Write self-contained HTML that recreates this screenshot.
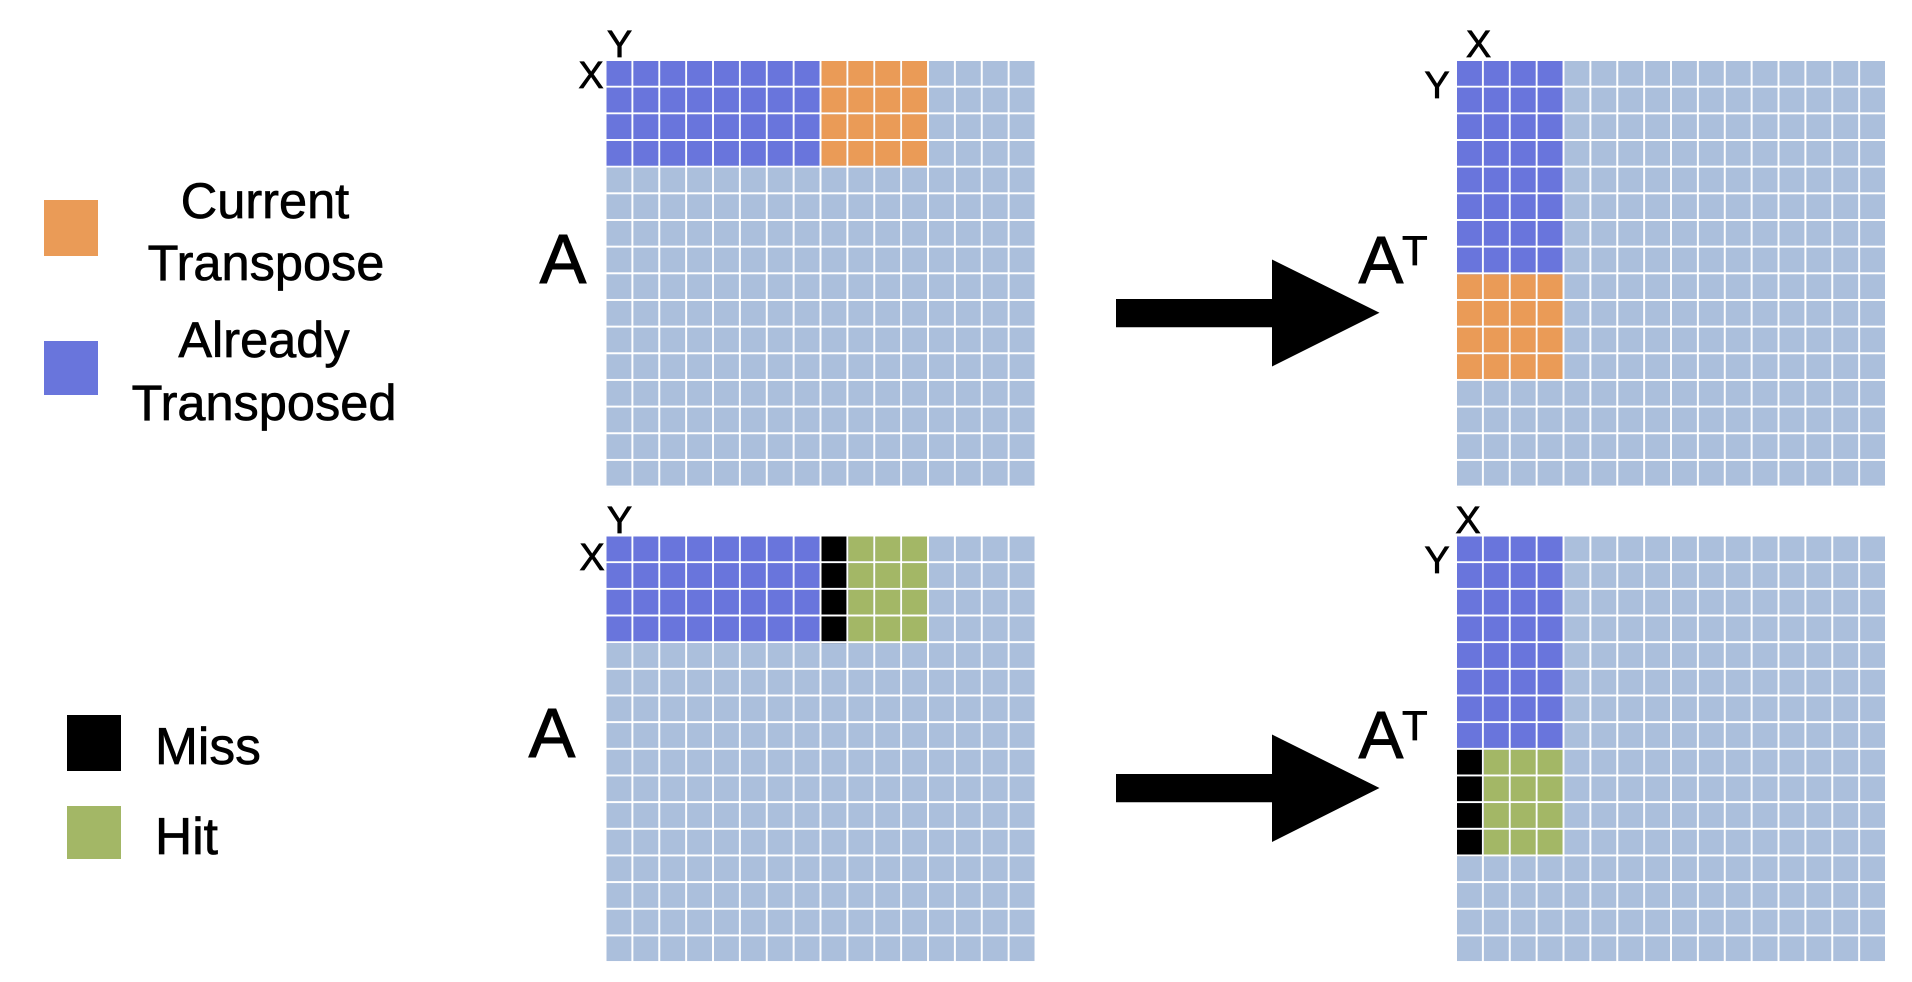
<!DOCTYPE html>
<html>
<head>
<meta charset="utf-8">
<style>
  html, body { margin: 0; padding: 0; background: #ffffff; }
  body { width: 1912px; height: 982px; overflow: hidden; }
  svg { display: block; }
  text { font-family: "Liberation Sans", Arial, sans-serif; fill: #000; }
  .b { stroke: #000; stroke-width: 0.7; }
  .bb { stroke: #000; stroke-width: 1; }
</style>
</head>
<body>
<svg width="1912" height="982" viewBox="0 0 1912 982" xmlns="http://www.w3.org/2000/svg">
  <defs>
    <pattern id="pL" patternUnits="userSpaceOnUse" x="0" y="0" width="26.875" height="26.66">
      <rect x="0" y="0" width="24.9" height="24.7" fill="#ABBFDC"/>
    </pattern>
    <pattern id="pB" patternUnits="userSpaceOnUse" x="0" y="0" width="26.875" height="26.66">
      <rect x="0" y="0" width="24.9" height="24.7" fill="#6975DC"/>
    </pattern>
    <pattern id="pO" patternUnits="userSpaceOnUse" x="0" y="0" width="26.875" height="26.66">
      <rect x="0" y="0" width="24.9" height="24.7" fill="#EA9B57"/>
    </pattern>
    <pattern id="pG" patternUnits="userSpaceOnUse" x="0" y="0" width="26.875" height="26.66">
      <rect x="0" y="0" width="24.9" height="24.7" fill="#A3B766"/>
    </pattern>
    <pattern id="pK" patternUnits="userSpaceOnUse" x="0" y="0" width="26.875" height="26.66">
      <rect x="0" y="0" width="24.9" height="24.7" fill="#000000"/>
    </pattern>
  </defs>

  <!-- Legend top -->
  <rect x="44" y="200" width="54" height="56" fill="#EA9B57"/>
  <rect x="44" y="341" width="54" height="54" fill="#6975DC"/>
  <text class="b" x="265" y="218" font-size="50.5" text-anchor="middle">Current</text>
  <text class="b" x="266" y="280" font-size="50.5" text-anchor="middle">Transpose</text>
  <text class="b" x="264" y="357" font-size="50.5" text-anchor="middle">Already</text>
  <text class="b" x="264" y="420" font-size="50.5" text-anchor="middle">Transposed</text>

  <!-- Legend bottom -->
  <rect x="67" y="715" width="54" height="56" fill="#000000"/>
  <rect x="67" y="806" width="54" height="53" fill="#A3B766"/>
  <text class="b" x="155" y="764" font-size="51.5">Miss</text>
  <text class="b" x="155" y="854" font-size="51.5">Hit</text>

  <!-- A labels -->
  <text class="bb" x="563" y="283" font-size="70" text-anchor="middle">A</text>
  <text class="bb" x="552" y="757" font-size="70" text-anchor="middle">A</text>

  <!-- A^T labels -->
  <text class="bb" x="1381" y="283" font-size="67" text-anchor="middle">A</text>
  <text class="b" x="1402" y="265" font-size="42">T</text>
  <text class="bb" x="1381" y="758" font-size="67" text-anchor="middle">A</text>
  <text class="b" x="1402" y="740" font-size="42">T</text>

  <!-- Arrows -->
  <polygon points="1116,299 1272,299 1272,259.5 1379.5,312.8 1272,366.5 1272,327.3 1116,327.3" fill="#000"/>
  <polygon points="1116,774 1272,774 1272,734.5 1379.5,788 1272,842 1272,802.3 1116,802.3" fill="#000"/>

  <!-- X / Y labels -->
  <text class="b" x="619.5" y="57" font-size="38" text-anchor="middle">Y</text>
  <text class="b" x="591" y="88" font-size="38" text-anchor="middle">X</text>

  <text class="b" x="1478.5" y="57" font-size="38" text-anchor="middle">X</text>
  <text class="b" x="1437" y="98" font-size="38" text-anchor="middle">Y</text>

  <text class="b" x="619.5" y="533" font-size="38" text-anchor="middle">Y</text>
  <text class="b" x="592" y="570" font-size="38" text-anchor="middle">X</text>

  <text class="b" x="1468" y="533" font-size="38" text-anchor="middle">X</text>
  <text class="b" x="1437" y="573" font-size="38" text-anchor="middle">Y</text>

  <!-- Grid top-left -->
  <g transform="translate(606.5,61)">
    <rect x="0" y="0" width="430" height="426.56" fill="url(#pL)"/>
    <rect x="0" y="0" width="215" height="106.64" fill="url(#pB)"/>
    <rect x="215" y="0" width="107.5" height="106.64" fill="url(#pO)"/>
  </g>

  <!-- Grid top-right -->
  <g transform="translate(1457,61)">
    <rect x="0" y="0" width="430" height="426.56" fill="url(#pL)"/>
    <rect x="0" y="0" width="107.5" height="213.28" fill="url(#pB)"/>
    <rect x="0" y="213.28" width="107.5" height="106.64" fill="url(#pO)"/>
  </g>

  <!-- Grid bottom-left -->
  <g transform="translate(606.5,536.5)">
    <rect x="0" y="0" width="430" height="426.56" fill="url(#pL)"/>
    <rect x="0" y="0" width="215" height="106.64" fill="url(#pB)"/>
    <rect x="215" y="0" width="26.875" height="106.64" fill="url(#pK)"/>
    <rect x="241.875" y="0" width="80.625" height="106.64" fill="url(#pG)"/>
  </g>

  <!-- Grid bottom-right -->
  <g transform="translate(1457,536.5)">
    <rect x="0" y="0" width="430" height="426.56" fill="url(#pL)"/>
    <rect x="0" y="0" width="107.5" height="213.28" fill="url(#pB)"/>
    <rect x="0" y="213.28" width="26.875" height="106.64" fill="url(#pK)"/>
    <rect x="26.875" y="213.28" width="80.625" height="106.64" fill="url(#pG)"/>
  </g>

  <!-- cover any pattern spill beyond grid edges -->
  <rect x="1885" y="0" width="27" height="982" fill="#fff"/>
  <rect x="0" y="961.2" width="1912" height="21" fill="#fff"/>
</svg>
</body>
</html>
